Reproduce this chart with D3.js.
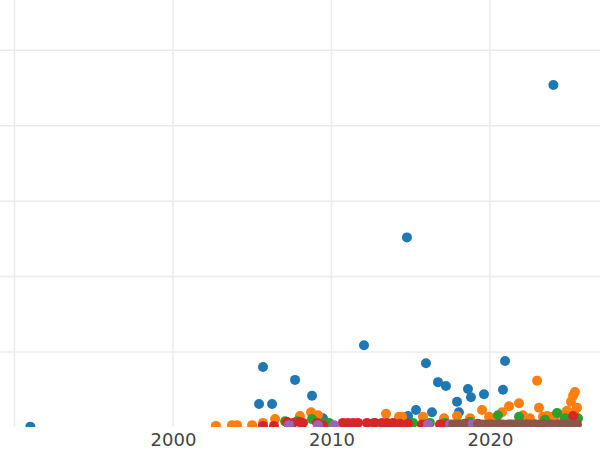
<!DOCTYPE html>
<html>
<head>
<meta charset="utf-8">
<script src="https://cdn.jsdelivr.net/npm/d3@7"></script>
<style>
  body { margin: 0; background: #fff; }
</style>
</head>
<body>
<script>
// values (x = year, y = value)
const blueYears  = [1991.0, 2024.0, 2014.76, 2012.05, 2005.68, 2007.70, 2005.43, 2006.25, 2008.77, 2015.96, 2020.95, 2016.72, 2017.22, 2018.61, 2018.80, 2019.62, 2020.82, 2017.92, 2018.04, 2015.33, 2016.34, 2014.83, 2009.46]
const blueValues = [1, 454, 252, 109, 80, 63, 31, 31, 42, 85, 88, 60, 55, 51, 40, 44, 50, 34, 20, 23, 20, 15, 12]

const orangeYears  = [2002.71, 2003.72, 2004.04, 2004.99, 2005.68, 2006.44, 2008.01, 2008.71, 2009.15, 2013.44, 2014.26, 2014.45, 2015.77, 2017.10, 2017.92, 2019.50, 2019.94, 2020.76, 2021.20, 2021.83, 2022.97, 2023.09, 2022.08, 2025.36, 2025.24, 2025.11, 2025.30, 2024.86, 2025.49, 2023.91, 2023.34, 2024.10, 2024.29, 2024.80, 2018.74, 2020.38, 2022.52, 2023.60]
const orangeValues = [2, 3, 3, 3, 6, 11, 15, 20, 16, 18, 14, 14, 14, 12, 15, 23, 14, 20, 28, 32, 62, 26, 16, 47, 42, 34, 20, 22, 26, 14, 14, 14, 18, 19, 12, 11, 12, 15]

const greenYears  = [2007.07, 2007.82, 2008.77, 2009.46, 2009.84, 2012.68, 2015.14, 2016.21, 2017.16, 2020.50, 2021.83, 2024.23, 2024.73, 2023.47, 2025.55, 2018.74]
const greenValues = [8, 8, 11, 6, 6, 6, 6, 6, 6, 16, 14, 19, 12, 10, 12, 7]

const redYears  = [2005.68, 2006.37, 2007.19, 2007.57, 2008.01, 2008.20, 2009.09, 2009.46, 2010.72, 2011.04, 2011.36, 2011.67, 2012.24, 2012.74, 2013.19, 2013.50, 2013.88, 2014.32, 2014.83, 2015.71, 2016.02, 2016.85, 2017.29, 2018.11, 2018.42, 2019.24, 2020.00, 2020.63, 2021.26, 2022.33, 2022.84, 2025.24, 2023.47, 2024.40]
const redValues = [2, 2, 7, 6, 7, 6, 6, 3, 6, 6, 6, 6, 6, 6, 6, 6, 6, 5, 5, 4, 4, 4, 4, 4, 5, 5, 4, 4, 4, 4, 4, 15, 4, 4]

const purpleYears  = [2007.32, 2009.15, 2010.16, 2016.09, 2017.48, 2018.86, 2023.60]
const purpleValues = [3, 3, 3, 4, 4, 4, 4]

const brownYears  = [2017.67, 2017.92, 2018.30, 2019.24, 2019.56, 2019.87, 2020.13, 2020.50, 2020.82, 2021.14, 2021.45, 2021.70, 2022.02, 2022.27, 2022.52, 2022.84, 2023.15, 2023.47, 2023.85, 2024.23, 2024.54, 2024.86, 2025.17, 2025.49]
const brownValues = [4, 4, 4, 4, 4, 4, 4, 4, 4, 4, 4, 4, 4, 4, 4, 4, 4, 4, 4, 4, 4, 4, 4, 4]

const gridYears  = [1990, 2000, 2010, 2020]
const labelYears = [2000, 2010, 2020]
const gridValues = [100, 200, 300, 400, 500]

const series = [
  {years: blueYears, values: blueValues, color: '#1f77b4'},
  {years: orangeYears, values: orangeValues, color: '#ff7f0e'},
  {years: greenYears, values: greenValues, color: '#2ca02c'},
  {years: redYears, values: redValues, color: '#d62728'},
  {years: purpleYears, values: purpleValues, color: '#9467bd'},
  {years: brownYears, values: brownValues, color: '#8c564b'},
]

const width = 600, height = 450
const plotBottom = 427.4

const svg = d3.select('body').append('svg')
  .attr('width', width)
  .attr('height', height)

const x = d3.scaleLinear()
  .domain([1989.085, 2026.94])
  .range([0, width])

const y = d3.scaleLinear()
  .domain([0, 566.8])
  .range([plotBottom, 0])

svg.append('clipPath')
  .attr('id', 'clip')
  .append('rect')
  .attr('x', 0).attr('y', 0)
  .attr('width', width).attr('height', 427)

// grid
svg.append('g')
  .selectAll('line')
  .data(gridYears)
  .enter().append('line')
  .attr('x1', d => x(d)).attr('x2', d => x(d))
  .attr('y1', 0).attr('y2', 427)
  .attr('stroke', '#ebebeb')
  .attr('stroke-width', 1.5)

svg.append('g')
  .selectAll('line')
  .data(gridValues)
  .enter().append('line')
  .attr('x1', 0).attr('x2', width)
  .attr('y1', d => y(d)).attr('y2', d => y(d))
  .attr('stroke', '#ebebeb')
  .attr('stroke-width', 1.5)

// points
const pts = svg.append('g').attr('clip-path', 'url(#clip)')
for (const s of series) {
  pts.append('g')
    .selectAll('circle')
    .data(s.years.map((yr, i) => [yr, s.values[i]]))
    .enter().append('circle')
    .attr('cx', d => x(d[0]))
    .attr('cy', d => y(d[1]))
    .attr('r', 5)
    .attr('fill', s.color)
}

// x axis labels
const xAxis = svg.append('g')
  .attr('transform', 'translate(0,' + plotBottom + ')')
  .call(d3.axisBottom(x).tickValues(labelYears).tickFormat(d3.format('d')).tickSize(0).tickPadding(6))
xAxis.select('.domain').remove()
xAxis.selectAll('text')
  .attr('fill', '#444')
  .style('font-family', '"DejaVu Sans", sans-serif')
  .style('font-size', '18px')
</script>
</body>
</html>
